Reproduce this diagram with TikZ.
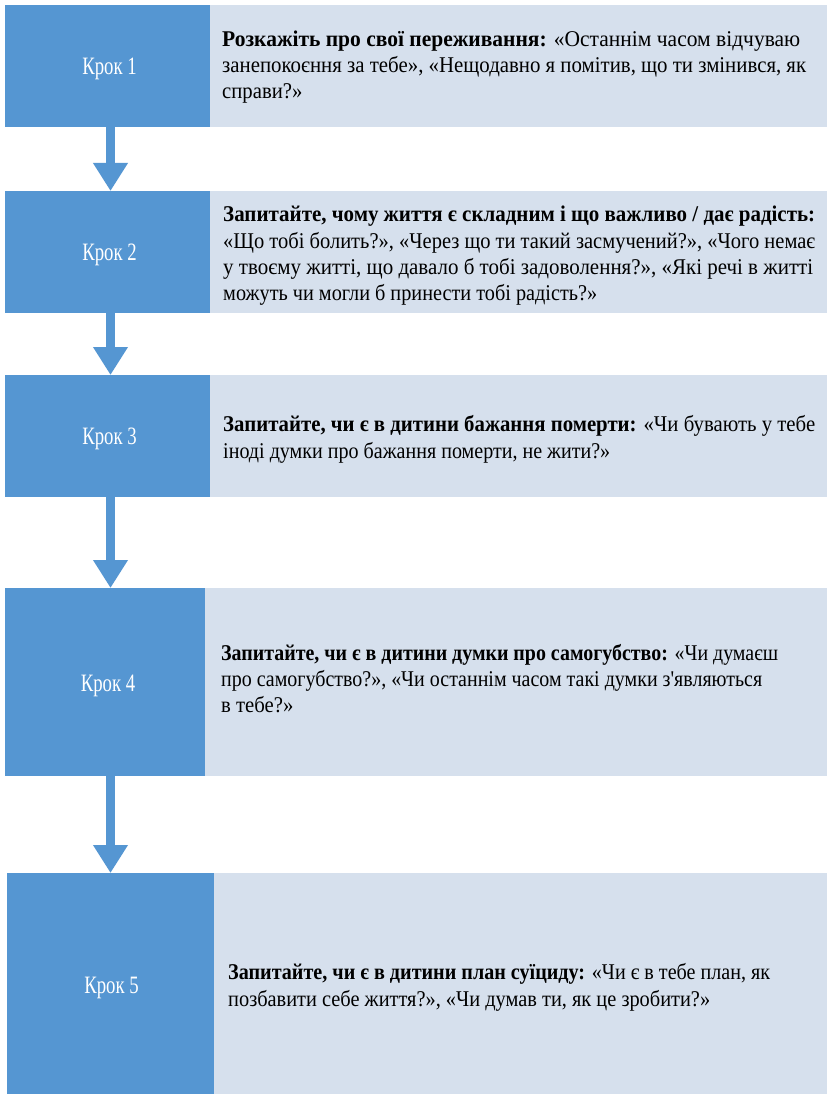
\documentclass[tikz,border=0pt]{standalone}
\usepackage{graphicx}
\usepackage{fontspec}
\setmainfont{LiberationSerif}[Extension=.ttf, UprightFont=*-Regular, BoldFont=*-Bold, ItalicFont=*-Italic, BoldItalicFont=*-BoldItalic]
\newfontfamily\bodyfnt{LiberationSerif}[Extension=.ttf, UprightFont=*-Regular, BoldFont=*-Bold, FakeStretch=0.92]
\newfontfamily\krokfnt{LiberationSerif}[Extension=.ttf, UprightFont=*-Regular, BoldFont=*-Bold, FakeStretch=0.75]
\usetikzlibrary{arrows.meta}
\definecolor{stepblue}{HTML}{5596D2}
\definecolor{steplight}{HTML}{D6E0ED}
\newsavebox\fitlinebox
\newcommand\fitline[2]{\sbox\fitlinebox{#2}%
  \pgfmathsetmacro\fitfac{#1/\the\wd\fitlinebox}%
  \scalebox{\fitfac}[1]{\usebox\fitlinebox}}
\tikzset{
  bluebox/.style={fill=stepblue, draw=none, inner sep=0pt},
  kroklabel/.style={anchor=base, inner sep=0pt, text=white,
    font=\krokfnt\fontsize{25}{28}\selectfont},
  lightbox/.style={fill=steplight, draw=none, inner sep=0pt, anchor=north west},
  steptext/.style={anchor=west, align=left, inner sep=0pt, text=black,
    font=\bodyfnt\fontsize{22.5}{26.3}\selectfont},
  flowarrow/.style={draw=stepblue, line width=9.5pt,
    -{Triangle[width=33pt,length=28pt]}}
}
\begin{document}
\begin{tikzpicture}[x=1pt,y=-1pt]
\useasboundingbox (0,0) rectangle (827,1094);
\fill[white] (0,0) rectangle (827,1094);
% boxes
\node[lightbox, minimum width=617pt, minimum height=122pt] (l1) at (210,5) {};
\node[bluebox, minimum width=205pt, minimum height=122pt] (b1) at (107.5,66) {};
\node[lightbox, minimum width=617pt, minimum height=122pt] (l2) at (210,191) {};
\node[bluebox, minimum width=205pt, minimum height=122pt] (b2) at (107.5,252) {};
\node[lightbox, minimum width=617pt, minimum height=122pt] (l3) at (210,375) {};
\node[bluebox, minimum width=205pt, minimum height=122pt] (b3) at (107.5,436) {};
\node[lightbox, minimum width=622pt, minimum height=188pt] (l4) at (205,588) {};
\node[bluebox, minimum width=200pt, minimum height=188pt] (b4) at (105,682) {};
\node[lightbox, minimum width=613pt, minimum height=221pt] (l5) at (214,873) {};
\node[bluebox, minimum width=207pt, minimum height=221pt] (b5) at (110.5,983.5) {};
% step labels
\node[kroklabel] (k1) at (109.5,75) {Крок 1};
\node[kroklabel] (k2) at (109.5,260.5) {Крок 2};
\node[kroklabel] (k3) at (109.5,444.5) {Крок 3};
\node[kroklabel] (k4) at (108,691) {Крок 4};
\node[kroklabel] (k5) at (111.5,993) {Крок 5};
% texts
\node[steptext] (t1) at (222,67) {\fitline{578}{\textbf{Розкажіть про свої переживання:} «Останнім часом відчуваю}\\
\fitline{584}{занепокоєння за тебе», «Нещодавно я помітив, що ти змінився, як}\\
справи?»};
\node[steptext] (t2) at (223,256) {\fitline{592}{\textbf{Запитайте, чому життя є складним і що важливо / дає радість:}}\\
\fitline{592}{«Що тобі болить?», «Через що ти такий засмучений?», «Чого немає}\\
\fitline{590}{у твоєму житті, що давало б тобі задоволення?», «Які речі в житті}\\
\fitline{374}{можуть чи могли б принести тобі радість?»}};
\node[steptext] (t3) at (223,439.5) {\fitline{592}{\textbf{Запитайте, чи є в дитини бажання померти:} «Чи бувають у тебе}\\
\fitline{387}{іноді думки про бажання померти, не жити?»}};
\node[steptext] (t4) at (221,678.5) {\fitline{557}{\textbf{Запитайте, чи є в дитини думки про самогубство:} «Чи думаєш}\\
\fitline{541}{про самогубство?», «Чи останнім часом такі думки з'являються}\\
в тебе?»};
\node[steptext] (t5) at (228,987.5) {\fitline{542}{\textbf{Запитайте, чи є в дитини план суїциду:} «Чи є в тебе план, як}\\
\fitline{482}{позбавити себе життя?», «Чи думав ти, як це зробити?»}};
% arrows
\coordinate (ax) at (110.5,0);
\draw[flowarrow] (b1.south -| ax) -- (l2.north -| ax);
\draw[flowarrow] (b2.south -| ax) -- (l3.north -| ax);
\draw[flowarrow] (b3.south -| ax) -- (l4.north -| ax);
\draw[flowarrow] (b4.south -| ax) -- (l5.north -| ax);
\end{tikzpicture}
\end{document}
